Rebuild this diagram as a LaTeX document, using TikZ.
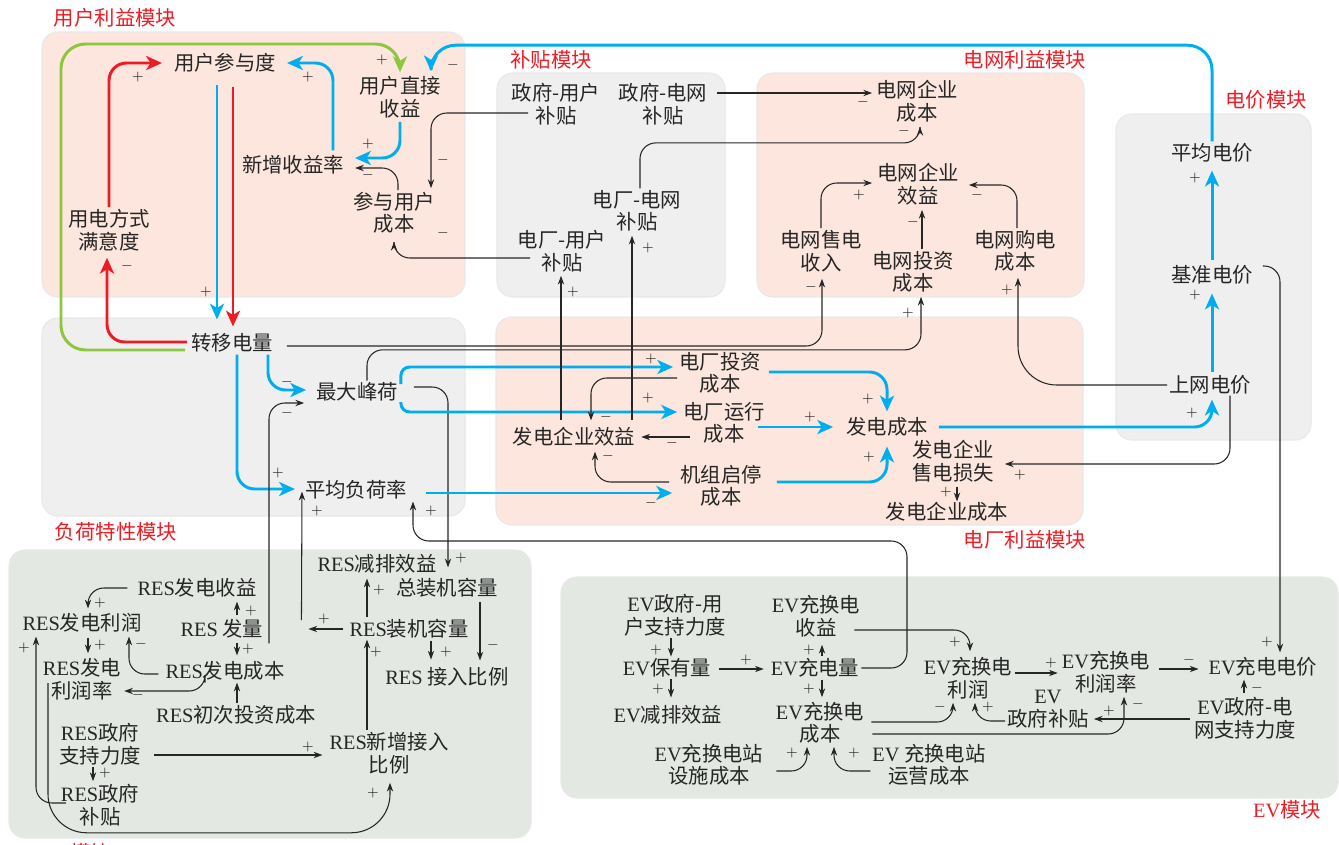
\documentclass[tikz,border=0pt]{standalone}
\usepackage{fontspec}
\setmainfont{Noto Sans CJK SC}
\newfontfamily\latf{Liberation Serif}
\usetikzlibrary{arrows.meta,calc}
\newcommand\RES{{\latf RES}}
\newcommand\EV{{\latf EV}}
\definecolor{redA}{RGB}{237,28,36}
\definecolor{bluA}{RGB}{0,174,239}
\definecolor{grnA}{RGB}{141,198,63}
\definecolor{bgPink}{RGB}{252,230,221}
\definecolor{bgGray}{RGB}{239,239,239}
\definecolor{bgGreen}{RGB}{227,233,226}
\tikzset{
  var/.style={align=center, inner sep=1pt, text=black!85, font=\fontsize{11.6}{12.8}\selectfont},
  sgn/.style={inner sep=0pt, text=black!85, font=\fontsize{8.5}{8.5}\selectfont},
  mod/.style={inner sep=1pt, text=redA, font=\fontsize{11.6}{12.8}\selectfont},
  box/.style={rounded corners=9pt, draw=black!9, line width=0.6pt},
  blk/.style={draw=black!85, line width=0.6pt, rounded corners=9pt, -{Stealth[length=5pt,width=3.6pt]}},
  blul/.style={draw=bluA, line width=1.7pt, rounded corners=10pt, -{Stealth[length=9pt,width=8pt,inset=2.5pt]}},
  redl/.style={blul, draw=redA},
  grnl/.style={blul, draw=grnA}
}
\begin{document}
\begin{tikzpicture}[x=0.02cm, y=-0.02cm]
\useasboundingbox (0,0) rectangle (1339,845);

% modules
\filldraw[box, fill=bgPink] (42,32) rectangle (465,297);
\filldraw[box, fill=bgGray] (42,318) rectangle (465,516);
\filldraw[box, fill=bgGray] (497,73) rectangle (725,297);
\filldraw[box, fill=bgPink] (757,73) rectangle (1084,297);
\filldraw[box, fill=bgGray] (1116,114) rectangle (1311,440);
\filldraw[box, fill=bgPink] (496,317) rectangle (1083,525);
\filldraw[box, fill=bgGreen] (9,550) rectangle (531,838);
\filldraw[box, fill=bgGreen] (561,577) rectangle (1338,798);

\node[mod] (lbyh) at (115,18) {用户利益模块};
\node[mod] (lbfh) at (116,532) {负荷特性模块};
\node[mod] (lbbt) at (551,60) {补贴模块};
\node[mod] (lbdw) at (1025,60) {电网利益模块};
\node[mod] (lbdj) at (1266,100) {电价模块};
\node[mod] (lbdc) at (1025,540) {电厂利益模块};
\node[mod] (lbev) at (1287,810) {\EV{}模块};
\node[mod] (lbres) at (72,853) {\RES{}模块};

% user / load
\node[var] (yhcyd) at (225,63) {用户参与度};
\node[var] (yhsy) at (400,97) {用户直接\\收益};
\node[var] (xzsyl) at (293,165) {新增收益率};
\node[var] (cyyhcb) at (394,213) {参与用户\\成本};
\node[var] (ydmyd) at (109,230) {用电方式\\满意度};
\node[var] (zydl) at (232,343) {转移电量};
\node[var] (zdfh) at (357,392) {最大峰荷};
\node[var] (pjfhl) at (356,490) {平均负荷率};

% subsidy / grid / price
\node[var] (zfyh) at (556,104) {政府-用户\\补贴};
\node[var] (zfdw) at (663,104) {政府-电网\\补贴};
\node[var] (dcdw) at (637,211) {电厂-电网\\补贴};
\node[var] (dcyh) at (562,251) {电厂-用户\\补贴};
\node[var] (dwcb) at (917,101) {电网企业\\成本};
\node[var] (dwxy) at (918,184) {电网企业\\效益};
\node[var] (dwsd) at (821,251) {电网售电\\收入};
\node[var] (dwtz) at (913,272) {电网投资\\成本};
\node[var] (dwgd) at (1015,251) {电网购电\\成本};
\node[var] (pjdj) at (1212,153) {平均电价};
\node[var] (jzdj) at (1212,275) {基准电价};
\node[var] (swdj) at (1210,385) {上网电价};

% plant
\node[var] (dctz) at (720,373) {电厂投资\\成本};
\node[var] (dcyx) at (724,423) {电厂运行\\成本};
\node[var] (fdxy) at (574,437) {发电企业效益};
\node[var] (jzqt) at (721,486) {机组启停\\成本};
\node[var] (fdcb) at (887,427) {发电成本};
\node[var] (fdss) at (953,461) {发电企业\\售电损失};
\node[var] (fdqcb) at (947,512) {发电企业成本};

% RES
\node[var] (rsy) at (197,588) {\RES{}发电收益};
\node[var] (rlr) at (82,623) {\RES{}发电利润};
\node[var] (rfl) at (222,629) {\RES\ 发量};
\node[var] (rcb) at (225,671) {\RES{}发电成本};
\node[var] (rlrl) at (82,679) {\RES{}发电\\利润率};
\node[var] (rtz) at (236,715) {\RES{}初次投资成本};
\node[var] (rzc) at (100,744) {\RES{}政府\\支持力度};
\node[var] (rbt) at (100,805) {\RES{}政府\\补贴};
\node[var] (rjp) at (377,564) {\RES{}减排效益};
\node[var] (zzj) at (447,588) {总装机容量};
\node[var] (rzj) at (409,629) {\RES{}装机容量};
\node[var] (rjr) at (447,677) {\RES\ 接入比例};
\node[var] (rxz) at (389,753) {\RES{}新增接入\\比例};

% EV
\node[var] (ezc) at (675,615) {\EV{}政府-用\\户支持力度};
\node[var] (ebyl) at (667,668) {\EV{}保有量};
\node[var] (ejp) at (668,715) {\EV{}减排效益};
\node[var] (esy) at (816,616) {\EV{}充换电\\收益};
\node[var] (ecdl) at (815,668) {\EV{}充电量};
\node[var] (ecb) at (820,723) {\EV{}充换电\\成本};
\node[var] (ess) at (709,765) {\EV{}充换电站\\设施成本};
\node[var] (eyy) at (929,765) {\EV\ 充换电站\\运营成本};
\node[var] (elr) at (968,678) {\EV{}充换电\\利润};
\node[var] (elrl) at (1106,672) {\EV{}充换电\\利润率};
\node[var] (ebt) at (1048,709) {\EV\\政府补贴};
\node[var] (edj) at (1263,667) {\EV{}充电电价};
\node[var] (ezw) at (1245,718) {\EV{}政府-电\\网支持力度};

% user module links
\draw[redl] (ydmyd.north) |- ($(yhcyd.west)+(-10,0)$);
\draw[redl] ($(zydl.west)+(-2,-1)$) -| ($(ydmyd.south)+(-2,5)$);
\draw[blul] ($(yhcyd.south)+(-8,10)$) -- ($(zydl.north)+(-15,-12)$);
\draw[redl] ($(yhcyd.south)+(8,12)$) -- ($(zydl.north)+(1,-5)$);
\draw[grnl, rounded corners=14pt] ($(zydl.west)+(-4,7)$) -| (61,44) -| ($(yhsy.north)+(0,-2)$);
\draw[blul, rounded corners=14pt] (pjdj.north) |- ($(yhsy.north)+(31,-29)$) -- ($(yhsy.north)+(31,-3)$);
\draw[blul] ($(xzsyl.north)+(40,-3)$) |- ($(yhcyd.east)+(9,0)$);
\draw[blul] ($(yhsy.south)+(0,2)$) |- ($(xzsyl.east)+(9,-7)$);
\draw[blk] ($(cyyhcb.north)+(4,0)$) |- ($(xzsyl.east)+(9,3)$);
\draw[blk] ($(zfyh.center)+(-28,9)$) -| ($(cyyhcb.north)+(37,-2)$);
\draw[blk] ($(dcyh.center)+(-32,7)$) -| ($(cyyhcb.south)+(0,6)$);

% subsidy and grid links
\draw[blk] ($(zfdw.east)+(8,-11)$) -- ($(dwcb.west)+(-2,-8)$);
\draw[blk] ($(dcdw.north)+(3,0)$) |- ($(dwcb.south)+(3,19)$) -- ($(dwcb.south)+(3,3)$);
\draw[blk] (dwsd.north) |- ($(dwxy.west)+(-3,-1)$);
\draw[blk] ($(dwtz.north)+(9,0)$) -- ($(dwxy.south)+(4,3)$);
\draw[blk] ($(dwgd.north)+(2,0)$) |- ($(dwxy.east)+(8,1)$);
\draw[blk] ($(zydl.east)+(12,3)$) -| ($(dwsd.south)+(1,5)$);
\draw[blk] ($(zdfh.north)+(10,0)$) |- ($(dwtz.south)+(8,55)$) -- ($(dwtz.south)+(8,2)$);

% load module links
\draw[blul] ($(zydl.south)+(36,0)$) |- ($(zdfh.west)+(-8,-2)$);
\draw[blul] ($(zydl.south)+(5,0)$) |- ($(pjfhl.west)+(-8,-1)$);
\draw[blk] ($(rcb.north)+(44,-16)$) |- ($(zdfh.west)+(-10,11)$);
\draw[blk] ($(rzj.west)+(-4,0)$) -- ($(rzj.west)+(-39,0)$);
\draw[blk] ($(rzj.west)+(-46,-9)$) -- ($(pjfhl.south)+(-54,-10)$);
\draw[blk] ($(zdfh.east)+(14,-5)$) -| ($(zzj.north)+(1,-9)$);
\draw[blk] (ecdl.east) -| (907,541) -| ($(pjfhl.south)+(57,0)$);

% plant module links
\draw[blul, rounded corners=5pt] ($(zdfh.east)+(1,-8)$) |- ($(dctz.west)+(-4,-6)$);
\draw[blul, rounded corners=5pt] ($(zdfh.east)+(1,10)$) |- ($(dcyx.west)+(-4,-11)$);
\draw[blul] ($(pjfhl.east)+(17,3)$) -- ($(jzqt.west)+(-6,7)$);
\draw[blul] ($(dctz.east)+(6,-1)$) -| ($(fdcb.north)+(0,-4)$);
\draw[blul] ($(dcyx.east)+(-9,4)$) -- ($(fdcb.west)+(-11,0)$);
\draw[blul] ($(jzqt.east)+(13,-4)$) -| ($(fdcb.south)+(0,8)$);
\draw[blul] ($(fdcb.east)+(9,0)$) -| ($(swdj.south)+(2,3)$);
\draw[blk] ($(dctz.west)+(0,5)$) -| ($(fdxy.north)+(17,-5)$);
\draw[blk] ($(dcyx.west)+(9,14)$) -- ($(fdxy.east)+(4,0)$);
\draw[blk] ($(jzqt.west)+(-9,-4)$) -| ($(fdxy.south)+(21,3)$);
\draw[blk] ($(fdxy.north)+(-13,-5)$) -- ($(dcyh.south)+(-1,2)$);
\draw[blk] ($(fdxy.north)+(58,-5)$) -- ($(dcdw.south)+(-5,2)$);
\draw[blk, rounded corners=22pt] (swdj.west) -| ($(dwgd.south)+(3,4)$);
\draw[blk] ($(swdj.south)+(20,-1)$) |- ($(fdss.east)+(9,3)$);
\draw[blk] ($(fdss.south)+(4,3)$) -- ($(fdqcb.north)+(10,1)$);

% price module links
\draw[blul] ($(swdj.north)+(2,-1)$) -- ($(jzdj.south)+(0,7)$);
\draw[blul] ($(jzdj.north)+(0,-3)$) -- ($(pjdj.south)+(0,6)$);
\draw[blk] ($(jzdj.east)+(8,-9)$) -| ($(edj.north)+(17,-3)$);

% RES module links
\draw[blk] ($(rsy.west)+(-8,0)$) -| ($(rlr.north)+(6,-3)$);
\draw[blk] ($(rlr.south)+(6,3)$) -- ($(rlrl.north)+(6,-3)$);
\draw[blk] ($(rfl.north)+(15,-2)$) -- ($(rsy.south)+(40,2)$);
\draw[blk] ($(rfl.south)+(15,2)$) -- ($(rcb.north)+(12,-4)$);
\draw[blk] ($(rcb.west)+(-5,3)$) -| ($(rlr.south)+(47,2)$);
\draw[blk] ($(rcb.south)+(-20,0)$) |- ($(rlrl.east)+(1,12)$);
\draw[blk] ($(rtz.north)+(1,0)$) -- ($(rcb.south)+(12,0)$);
\draw[blk] ($(rzc.east)+(11,11)$) -- ($(rxz.west)+(-5,2)$);
\draw[blk] ($(rzc.south)+(-7,0)$) -- ($(rbt.north)+(-7,-1)$);
\draw[blk] ($(rbt.west)+(7,-2)$) -| ($(rlr.south)+(-46,2)$);
\draw[blk, rounded corners=22pt] ($(rlrl.center)+(-34,4)$) |- ($(rxz.south)+(1,57)$) -- ($(rxz.south)+(1,7)$);
\draw[blk] ($(rzj.north)+(-42,0)$) -- ($(rjp.south)+(-10,3)$);
\draw[blk] ($(rzj.south)+(22,0)$) -- ($(rjr.north)+(-16,-6)$);
\draw[blk] ($(zzj.south)+(33,2)$) -- ($(rjr.north)+(33,-5)$);
\draw[blk] ($(rxz.north)+(-22,0)$) -- ($(rzj.south)+(-42,-1)$);

% EV module links
\draw[blk] ($(ezc.south)+(-4,0)$) -- ($(ebyl.north)+(4,0)$);
\draw[blk] ($(ebyl.east)+(6,1)$) -- ($(ecdl.west)+(-5,1)$);
\draw[blk] ($(ebyl.south)+(4,0)$) -- ($(ejp.north)+(3,-6)$);
\draw[blk] ($(ecdl.north)+(7,0)$) -- ($(esy.south)+(6,6)$);
\draw[blk] ($(ecdl.south)+(7,0)$) -- ($(ecb.north)+(2,-3)$);
\draw[blk] ($(esy.east)+(-8,14)$) -| ($(elr.north)+(2,-4)$);
\draw[blk] ($(elr.east)+(1,-5)$) -- ($(elrl.west)+(-2,1)$);
\draw[blk] ($(elrl.east)+(7,-3)$) -- ($(edj.west)+(-8,2)$);
\draw[blk] ($(ezw.north)+(-1,-2)$) -- ($(edj.south)+(-19,1)$);
\draw[blk] ($(ezw.west)+(-2,1)$) -- ($(ebt.east)+(3,10)$);
\draw[blk] ($(ebt.west)+(0,12)$) -| ($(elr.south)+(7,2)$);
\draw[blk] ($(ecb.east)+(5,-1)$) -| ($(elr.south)+(-15,2)$);
\draw[blk] ($(ecb.east)+(6,11)$) -| ($(elrl.south)+(18,2)$);
\draw[blk] ($(ess.east)+(11,6)$) -| ($(ecb.south)+(-13,1)$);
\draw[blk] ($(eyy.west)+(0,6)$) -| ($(ecb.south)+(14,1)$);

% polarity signs
\foreach \x/\y/\s [count=\i] in {138/77/+, 127/266/-, 206/292/+, 382/60/+, 453/65/-, 308/77/+,
  368/144/+, 368/175/-, 443/160/-, 443/233/-, 648/248/+, 573/292/+,
  863/102/-, 904/131/-, 859/195/+, 977/195/-, 913/222/-, 811/287/-, 1007/290/+, 908/313/+,
  1195/178/+, 1195/295/+, 1192/413/+, 1267/642/+,
  651/359/+, 648/398/+, 606/417/-, 672/443/-, 608/456/-, 651/503/-, 868/399/+, 810/417/+,
  869/457/+, 1020/475/+, 946/492/+,
  287/382/-, 287/413/-, 278/473/+, 317/511/+, 431/511/+,
  100/603/+, 100/645/+, 251/611/+, 248/649/+, 141/644/-, 138/695/-, 24/648/+, 105/773/+,
  308/747/+, 373/793/+, 379/590/+, 324/619/+, 461/558/+, 446/652/+, 376/652/+, 493/645/-,
  656/650/+, 746/660/+, 658/689/+, 809/650/+, 809/689/+, 955/642/+, 1051/663/+, 1189/660/-,
  1257/688/-, 940/707/-, 988/707/+, 1109/711/+, 1138/704/-, 792/753/+, 854/753/+}
  \node[sgn] (sg\i) at (\x,\y) {$\s$};
\end{tikzpicture}
\end{document}
